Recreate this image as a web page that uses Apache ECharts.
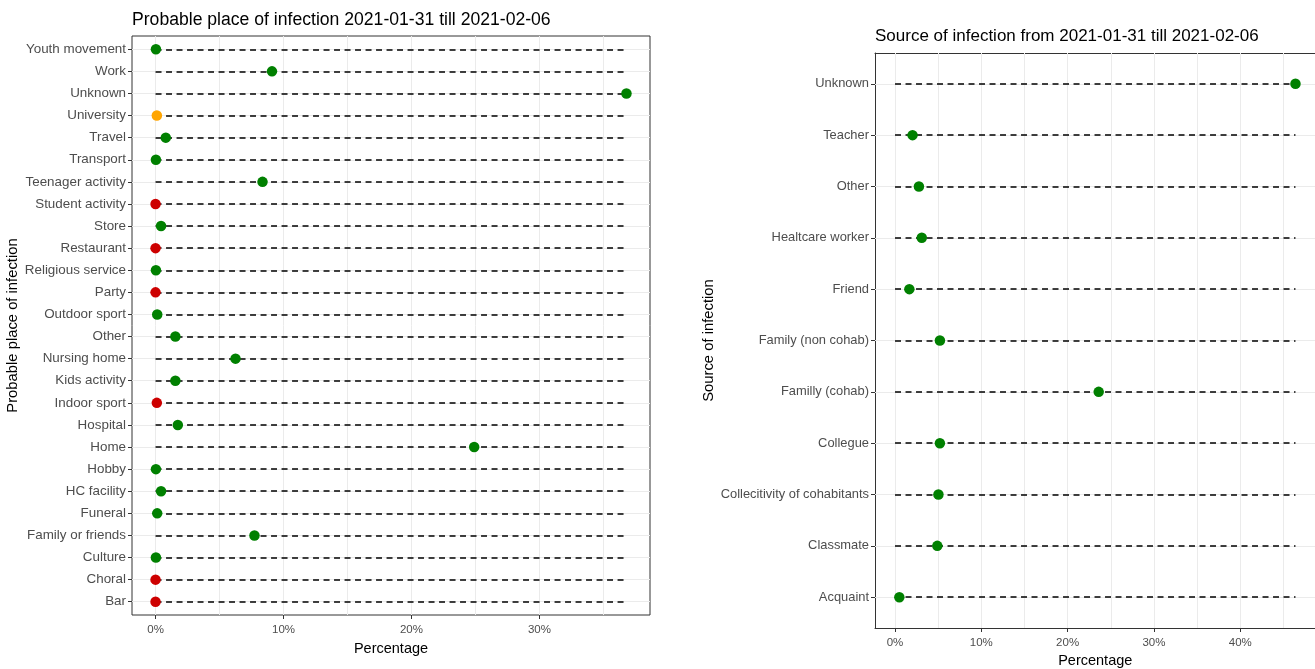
<!DOCTYPE html>
<html>
<head>
<meta charset="utf-8">
<script src="https://cdn.jsdelivr.net/npm/echarts@6/dist/echarts.min.js"></script>
<style>
html,body{margin:0;padding:0;background:#fff;}
#chart{width:1315px;height:669px;}
</style>
</head>
<body>
<div id="chart"></div>
<script>
// ---- Data (categories listed bottom to top) ----
const placeCategories = ["Bar","Choral","Culture","Family or friends","Funeral","HC facility","Hobby","Home","Hospital","Indoor sport","Kids activity","Nursing home","Other","Outdoor sport","Party","Religious service","Restaurant","Store","Student activity","Teenager activity","Transport","Travel","University","Unknown","Work","Youth movement"];
const placeValues = [0, 0, 0.03, 7.73, 0.13, 0.43, 0.03, 24.9, 1.74, 0.1, 1.55, 6.25, 1.55, 0.13, 0, 0.03, 0, 0.43, 0, 8.36, 0.03, 0.8, 0.1, 36.8, 9.1, 0.03];
const placeStatus = ["closed","closed","open","open","open","open","open","open","open","closed","open","open","open","open","closed","open","closed","open","closed","open","open","open","partial","open","open","open"];

const sourceCategories = ["Acquaint","Classmate","Collecitivity of cohabitants","Collegue","Familly (cohab)","Family (non cohab)","Friend","Healtcare worker","Other","Teacher","Unknown"];
const sourceValues = [0.5, 4.9, 5.03, 5.2, 23.6, 5.2, 1.66, 3.1, 2.77, 2.03, 46.4];

const placeTicks = [0, 10, 20, 30];
const placeGridValues = [0, 5, 10, 15, 20, 25, 30, 35];
const sourceTicks = [0, 10, 20, 30, 40];
const sourceGridValues = [0, 5, 10, 15, 20, 25, 30, 35, 40, 45];

// ---- Styles ----
const FONT = "'Liberation Sans', Arial, sans-serif";
const statusColor = { open: "#008000", closed: "#cd0000", partial: "#ffa500" };
const BORDER = { color: "#333", width: 1 };

function buildPanel(gi, cats, vals, colors, ticks, gridVals, cfg) {
  const n = cats.length;
  const idx = cats.map((_, i) => i);
  const vmax = Math.max.apply(null, vals);
  const xmin = -0.05 * vmax, xmax = 1.05 * vmax;
  const xAxes = [{
    gridIndex: gi, type: "value", min: xmin, max: xmax,
    axisLine: { show: cfg.axisBorder, onZero: false, lineStyle: BORDER }, splitLine: { show: false },
    axisTick: { show: true, customValues: ticks, length: 4, lineStyle: BORDER },
    axisLabel: { customValues: ticks, formatter: v => v + "%", color: "#4d4d4d", fontSize: 11.5, fontFamily: FONT, margin: cfg.xLabelMargin },
    name: "Percentage", nameLocation: "middle", nameGap: cfg.xNameGap,
    nameTextStyle: { color: "#000", fontSize: 14.5, fontFamily: FONT }
  }];
  if (cfg.axisBorder) {
    xAxes.push({
      gridIndex: gi, type: "value", position: "top", min: xmin, max: xmax,
      axisLine: { show: true, onZero: false, lineStyle: BORDER },
      axisTick: { show: false }, axisLabel: { show: false }, splitLine: { show: false }
    });
  }
  const yAxis = {
    gridIndex: gi, type: "value", min: -0.6, max: n - 1 + 0.6,
    axisLine: { show: cfg.axisBorder, onZero: false, lineStyle: BORDER }, splitLine: { show: false },
    axisTick: { show: true, customValues: idx, length: 4, lineStyle: BORDER },
    axisLabel: { customValues: idx, formatter: v => cats[Math.round(v)], color: "#4d4d4d", fontSize: cfg.yLabelSize, fontFamily: FONT, margin: 6 },
    name: cfg.yName, nameLocation: "middle", nameGap: cfg.yNameGap, nameRotate: 90,
    nameTextStyle: { color: "#000", fontSize: 14.8, fontFamily: FONT }
  };
  const series = [
    {
      type: "line", xAxisIndex: cfg.xIndex, yAxisIndex: gi, data: [], silent: true, animation: false,
      markLine: {
        silent: true, symbol: ["none", "none"], z: 1, animation: false,
        label: { show: false }, emphasis: { disabled: true },
        lineStyle: { color: "#ebebeb", width: 1, type: "solid" },
        data: gridVals.map(v => ({ xAxis: v })).concat(idx.map(i => ({ yAxis: i })))
      }
    },
    {
      type: "line", xAxisIndex: cfg.xIndex, yAxisIndex: gi, data: [], silent: true, animation: false,
      markLine: {
        silent: true, symbol: ["none", "none"], z: 2, animation: false,
        label: { show: false }, emphasis: { disabled: true },
        lineStyle: { color: "#000", width: 1.5, type: [6, 4.5] },
        data: idx.map(i => [{ coord: [0, i] }, { coord: [vmax, i] }])
      }
    },
    {
      type: "scatter", xAxisIndex: cfg.xIndex, yAxisIndex: gi, z: 10, animation: false,
      symbol: "circle", symbolSize: 10.5,
      data: vals.map((v, i) => ({ value: [v, i], itemStyle: { color: colors[i], opacity: 1 } }))
    }
  ];
  return { xAxes, yAxis, series };
}

const left = buildPanel(0, placeCategories, placeValues, placeStatus.map(s => statusColor[s]),
  placeTicks, placeGridValues,
  { xIndex: 0, axisBorder: false, xLabelMargin: 9, yLabelSize: 13.4, xNameGap: 26, yName: "Probable place of infection", yNameGap: 106 });
const right = buildPanel(1, sourceCategories, sourceValues, sourceValues.map(() => statusColor.open),
  sourceTicks, sourceGridValues,
  { xIndex: 1, axisBorder: true, xLabelMargin: 8.5, yLabelSize: 12.9, xNameGap: 25, yName: "Source of infection", yNameGap: 157 });

const chart = echarts.init(document.getElementById("chart"), null, { renderer: "canvas" });
chart.setOption({
  backgroundColor: "#fff",
  animation: false,
  title: [
    { text: "Probable place of infection 2021-01-31 till 2021-02-06", left: 132, top: 11, padding: 0,
      textStyle: { fontSize: 17.6, fontWeight: "normal", color: "#000", fontFamily: FONT } },
    { text: "Source of infection from 2021-01-31 till 2021-02-06", left: 875, top: 28, padding: 0,
      textStyle: { fontSize: 17, fontWeight: "normal", color: "#000", fontFamily: FONT } }
  ],
  grid: [
    { left: 132, top: 36, width: 518, height: 579, show: true, borderColor: "#333", borderWidth: 1, backgroundColor: "transparent", containLabel: false, outerBoundsMode: "none" },
    { left: 875, top: 53, width: 440.5, height: 575, show: false, containLabel: false, outerBoundsMode: "none" }
  ],
  xAxis: left.xAxes.concat(right.xAxes),
  yAxis: [left.yAxis, right.yAxis],
  series: left.series.concat(right.series)
});
</script>
</body>
</html>
